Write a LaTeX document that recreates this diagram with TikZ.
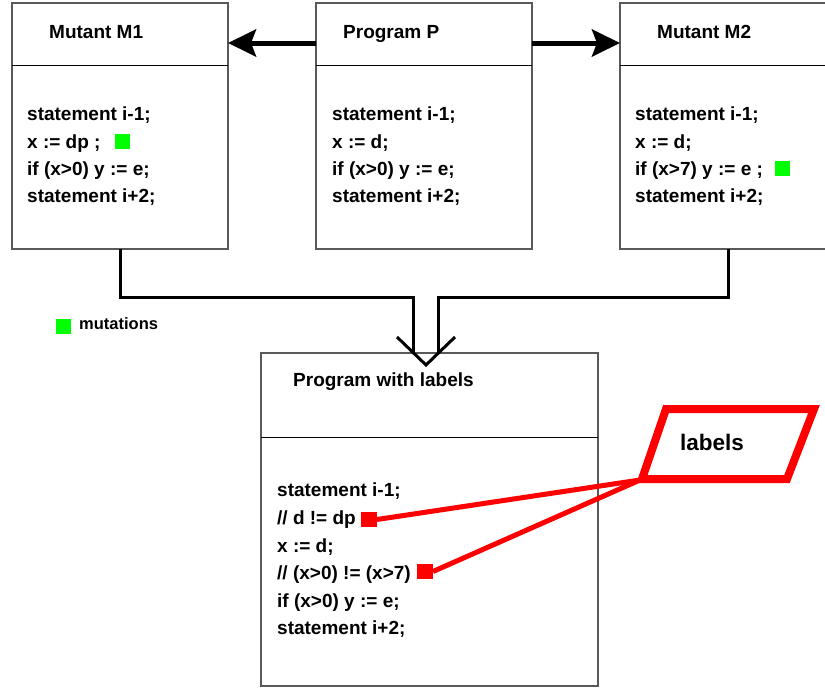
\documentclass[tikz,border=0pt]{standalone}
\usepackage{fontspec}
\setmainfont{Liberation Sans}
\usetikzlibrary{arrows.meta}
\definecolor{mgreen}{RGB}{0,255,0}
\definecolor{mred}{RGB}{255,0,0}
\begin{document}
\begin{tikzpicture}[x=1pt,y=-1pt,
  box/.style={draw=black!65, line width=1.3pt, minimum width=216pt, minimum height=246pt, anchor=north west, inner sep=0pt, outer sep=0pt},
  txt/.style={anchor=base west, inner sep=0pt, font=\fontsize{19}{23}\selectfont\bfseries},
  divider/.style={draw=black, line width=1pt},
  bigarrow/.style={line width=5pt, -{Stealth[length=28pt,width=27pt,inset=5pt]}},
  conn/.style={line width=3pt, line join=miter},
  greensq/.style={fill=mgreen, minimum size=15pt, inner sep=0pt},
  redsq/.style={fill=mred, minimum width=16pt, minimum height=15pt, inner sep=0pt, outer sep=0pt},
  redline/.style={draw=mred, line width=5pt},
  redpar/.style={draw=mred, line width=8pt, line join=miter}
]
\useasboundingbox (0,0) rectangle (825,688);
\clip (0,0) rectangle (825,688);

% top boxes
\node[box] (m1) at (12,3) {};
\node[box] (p) at (316,3) {};
\node[box] (m2) at (620,3) {};
\foreach \b in {m1,p,m2}
  \draw[divider] ([yshift=-62pt]\b.north west) -- ([yshift=-62pt]\b.north east);

\node[txt] (m1t) at (49,38) {Mutant M1};
\node[txt] (pt) at (343,38) {Program P};
\node[txt] (m2t) at (657,38) {Mutant M2};

% M1 code
\node[txt] (m1a) at (27,120) {statement i-1;};
\node[txt] (m1b) at (27,148) {x := dp ;};
\node[txt] (m1c) at (27,175) {if (x>0) y := e;};
\node[txt] (m1d) at (27,202) {statement i+2;};
\node[greensq] (g1) at (122,141) {};

% P code
\node[txt] (pa) at (332,120) {statement i-1;};
\node[txt] (pb) at (332,148) {x := d;};
\node[txt] (pc) at (332,175) {if (x>0) y := e;};
\node[txt] (pd) at (332,202) {statement i+2;};

% M2 code
\node[txt] (m2a) at (635,120) {statement i-1;};
\node[txt] (m2b) at (635,148) {x := d;};
\node[txt] (m2c) at (635,175) {if (x>7) y := e ;};
\node[txt] (m2d) at (635,202) {statement i+2;};
\node[greensq] (g2) at (782,168.5) {};

% arrows between top boxes
\draw[bigarrow] ([yshift=-40pt]p.north west) -- ([yshift=-40pt]m1.north east);
\draw[bigarrow] ([yshift=-40pt]p.north east) -- ([yshift=-40pt]m2.north west);

% legend
\node[greensq] (lg) at (63,326) {};
\node[txt, font=\fontsize{16.5}{20}\selectfont\bfseries] (lgt) at (79,329) {mutations};

% bottom box
\node[box, minimum width=337pt, minimum height=333pt] (pl) at (261,353) {};
\draw[divider] ([yshift=-84pt]pl.north west) -- ([yshift=-84pt]pl.north east);
\node[txt] (plt) at (293,386) {Program with labels};
\node[txt] (pla) at (277,496) {statement i-1;};
\node[txt] (plb) at (277,524) {// d != dp};
\node[txt] (plc) at (277,552) {x := d;};
\node[txt] (pld) at (277,579) {// (x>0) != (x>7)};
\node[txt] (ple) at (277,607) {if (x>0) y := e;};
\node[txt] (plf) at (277,634) {statement i+2;};
\node[redsq] (r1) at (369,519.5) {};
\node[redsq] (r2) at (425,571.5) {};

% connectors into bottom box
\coordinate (j1) at (413,297);
\coordinate (e1) at (413,352.5);
\coordinate (j2) at (438,297);
\coordinate (e2) at (438,352.5);
\draw[conn] (m1.south) |- (j1) -- (e1);
\draw[conn] (m2.south) |- (j2) -- (e2);
\coordinate (va) at (397,337);
\coordinate (vt) at (426,365);
\coordinate (vb) at (455,337);
\draw[conn] (va) -- (vt) -- (vb);

% labels parallelogram
\coordinate (q1) at (666,409);
\coordinate (q2) at (814,409);
\coordinate (q3) at (787,479);
\coordinate (q4) at (642,479);
\draw[redpar] (q1) -- (q2) -- (q3) -- (q4) -- cycle;
\node[txt, font=\fontsize{22.5}{27}\selectfont\bfseries] (lbl) at (680,450) {labels};
\coordinate (lc) at (640,480);
\draw[redline] (r1.east) -- (lc);
\draw[redline] (r2.east) -- (lc);
\end{tikzpicture}
\end{document}
